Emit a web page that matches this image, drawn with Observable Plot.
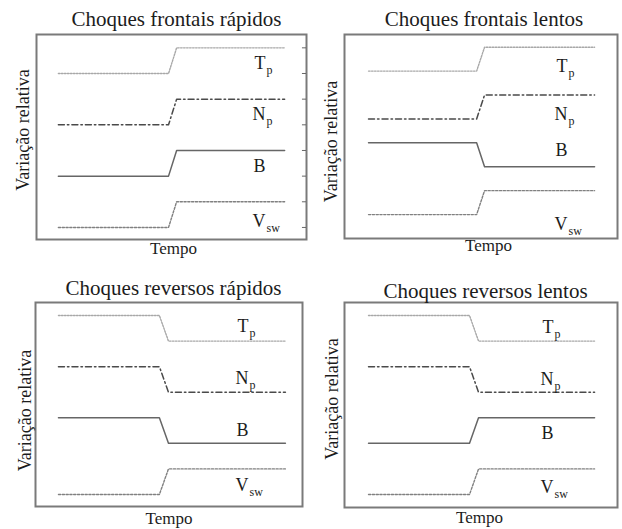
<!DOCTYPE html>
<html><head><meta charset="utf-8">
<script src="https://cdn.jsdelivr.net/npm/d3@7"></script>
<script src="https://cdn.jsdelivr.net/npm/@observablehq/plot@0.6"></script>
<style>
body{margin:0;background:#fff;}
#wrap{position:relative;width:622px;height:529px;overflow:hidden;}
.panel{position:absolute;}
</style></head><body><div id="wrap"></div>
<script>
// ---- data ----
const titles = ["Choques frontais rápidos", "Choques frontais lentos", "Choques reversos rápidos", "Choques reversos lentos"];
const seriesNames = ["Tp", "Np", "B", "Vsw"];
const mainLetters = ["T", "N", "B", "V"];
const subLetters = ["p", "p", "", "sw"];
const levelsBefore = [[6, 4, 2, 0], [6, 4, 3, 0], [7, 5, 3, 0], [7, 5, 2, 0]];
const levelsAfter = [[7, 5, 3, 1], [7, 5, 2, 1], [6, 4, 2, 1], [6, 4, 3, 1]];
const timePoints = [[8.1, 48.9, 51.9, 91.9], [8.8, 48.4, 51.3, 91.6], [8.6, 46.4, 49.8, 93.6], [8.8, 45.8, 49.1, 91.6]];
const labelTime = [84.8, 81.7, 79.8, 76.6];
const labelLevels = [[6.4, 4.4, 2.4, 0.25], [6.2, 4.2, 2.7, -0.4], [6.6, 4.55, 2.5, 0.35], [6.55, 4.5, 2.4, 0.27]];
const xLabel = "Tempo";
const yLabel = "Variação relativa";
const tickLevels = [0, 1, 2, 3, 4, 5, 6, 7];

// ---- styles / layout ----
const font = "Liberation Serif";
const ink = "#1c1c1c";
const lineStyles = [
  {stroke: "#a8a8a8", strokeWidth: 1.4, strokeDasharray: "1.6,1.4"},
  {stroke: "#4a4a4a", strokeWidth: 1.5, strokeDasharray: "6,3,1.5,3"},
  {stroke: "#666666", strokeWidth: 1.5},
  {stroke: "#808080", strokeWidth: 1.4, strokeDasharray: "2.2,1.6"}
];
const layout = [
  {left: 0, top: 0, width: 311, height: 265, m: [34, 5, 26, 36], y: [-0.47, 7.52], tDy: -9, tDx: 5, xDy: 14, xDx: 2, yDx: -8, yDy: -7, ticks: true},
  {left: 311, top: 0, width: 311, height: 265, m: [34, 5, 27, 33], y: [-1.0, 7.53], tDy: -9, tDx: 3, xDy: 12, xDx: 7.5, yDx: -8, yDy: 5, ticks: false},
  {left: 0, top: 265, width: 311, height: 264, m: [37, 9, 23, 35], y: [-0.47, 7.51], tDy: -8, tDx: 4.5, xDy: 17, xDx: 0, yDx: -5, yDy: 6, ticks: false},
  {left: 311, top: 265, width: 311, height: 264, m: [37, 5, 22, 33], y: [-0.51, 7.51], tDy: -5, tDx: 4.5, xDy: 15, xDx: -1.5, yDx: -7, yDy: -6, ticks: false}
];

const wrap = document.getElementById("wrap");

titles.forEach((title, p) => {
  const L = layout[p];
  const rows = [];
  seriesNames.forEach((s, si) => {
    timePoints[p].forEach((t, k) => {
      rows.push({series: s, t, v: k < 2 ? levelsBefore[p][si] : levelsAfter[p][si]});
    });
  });
  const labels = seriesNames.map((s, si) => ({t: labelTime[p], v: labelLevels[p][si], main: mainLetters[si], sub: subLetters[si]}));
  const tx = {fontFamily: font, fill: ink};

  const marks = [
    Plot.frame({stroke: "#7a7a7a", strokeWidth: 2}),
    ...seriesNames.map((s, si) => Plot.line(rows.filter(r => r.series === s), {x: "t", y: "v", ...lineStyles[si]})),
    Plot.text(labels, {x: "t", y: "v", text: "main", textAnchor: "end", lineAnchor: "middle", fontSize: 18, ...tx}),
    Plot.text(labels, {x: "t", y: "v", text: "sub", textAnchor: "start", lineAnchor: "middle", dx: 1, dy: 7, fontSize: 12, ...tx}),
    Plot.text([title], {text: d => d, frameAnchor: "top", textAnchor: "middle", lineAnchor: "bottom", dx: L.tDx, dy: L.tDy, fontSize: 21, ...tx}),
    Plot.text([xLabel], {text: d => d, frameAnchor: "bottom", textAnchor: "middle", lineAnchor: "bottom", dx: L.xDx, dy: L.xDy, fontSize: 17, ...tx}),
    Plot.text([yLabel], {text: d => d, frameAnchor: "left", textAnchor: "middle", lineAnchor: "bottom", rotate: -90, dx: L.yDx, dy: L.yDy, fontSize: 18, ...tx})
  ];
  if (L.ticks) {
    marks.push(Plot.ruleY(tickLevels, {x1: 98.5, x2: 100, stroke: "#666", strokeWidth: 1}));
  }

  const chart = Plot.plot({
    width: L.width,
    height: L.height,
    marginTop: L.m[0], marginRight: L.m[1], marginBottom: L.m[2], marginLeft: L.m[3],
    x: {domain: [0, 100], axis: null},
    y: {domain: L.y, axis: null},
    style: {fontFamily: font, background: "transparent", overflow: "visible"},
    marks
  });
  const div = document.createElement("div");
  div.className = "panel";
  div.style.left = L.left + "px";
  div.style.top = L.top + "px";
  div.style.width = L.width + "px";
  div.style.height = L.height + "px";
  div.appendChild(chart);
  wrap.appendChild(div);
});
</script></body></html>
